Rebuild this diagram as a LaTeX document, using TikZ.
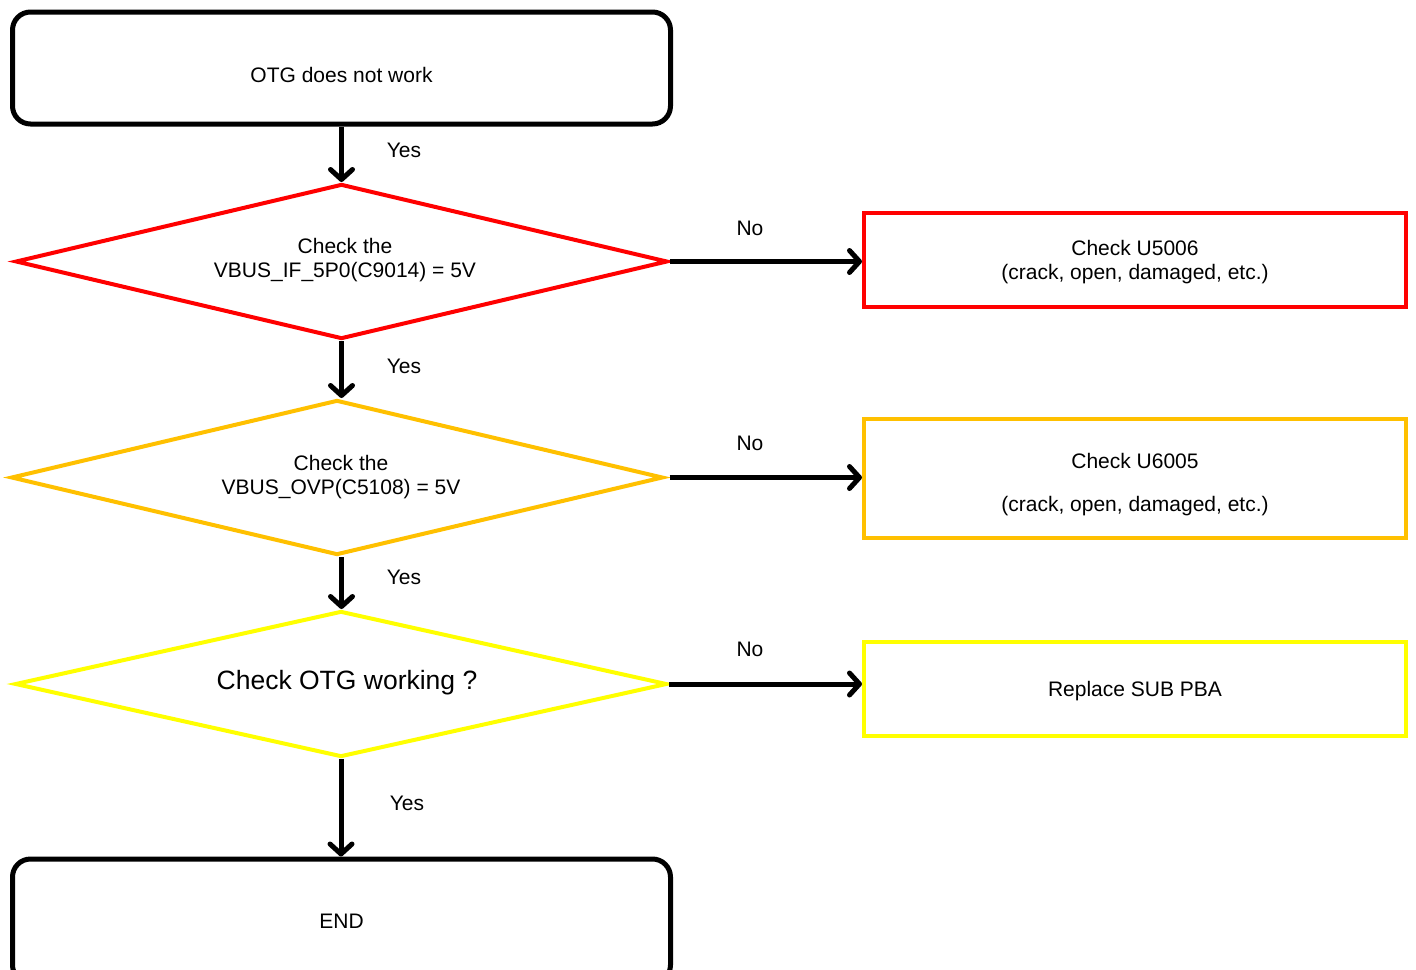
\documentclass[tikz,border=0pt]{standalone}
\usepackage{fontspec}
\setmainfont{Liberation Sans}
\usetikzlibrary{arrows.meta,shapes.geometric}
\definecolor{myorange}{HTML}{FFC000}
\definecolor{myyellow}{HTML}{FFFF00}
\begin{document}
\begin{tikzpicture}[x=1pt,y=-1pt,
 txt/.style={font=\fontsize{21}{24}\selectfont, align=center, inner sep=0pt},
 term/.style={draw=black, line width=5pt, rounded corners=18pt, minimum width=658pt, inner sep=0pt, txt},
 dec/.style={diamond, draw, line width=4pt, inner sep=0pt, minimum width=652pt, minimum height=155pt},
 res/.style={draw, line width=4pt, minimum width=542pt, inner sep=0pt, txt},
 arr/.style={line width=5pt, -{Straight Barb[length=10pt,width=22pt,round]}},
 lab/.style={txt}
]
\useasboundingbox (0,0) rectangle (1416,969);
% terminals
\node[term, minimum height=112pt] (start) at (341.5,68) {};
\node[txt] (starttxt) at (341.5,75) {OTG does not work};
\node[term, minimum height=124pt] (end) at (341.5,921) {END};
% decisions
\node[dec, draw=red] (d1) at (341.5,261.5) {};
\node[txt] (d1txt) at (345,260) {Check the\\VBUS\_IF\_5P0(C9014) = 5V};
\node[dec, draw=myorange] (d2) at (337,477.5) {};
\node[txt] (d2txt) at (341,477) {Check the\\VBUS\_OVP(C5108) = 5V};
\node[dec, draw=myyellow, minimum height=146pt] (d3) at (341,684) {};
\node[txt, font=\fontsize{26.5}{30}\selectfont] (d3txt) at (347,682.5) {Check OTG working ?};
% results
\node[res, draw=red, minimum height=94pt] (b1) at (1135,260) {};
\node[txt] (b1txt) at (1135,262) {Check U5006\\(crack, open, damaged, etc.)};
\node[res, draw=myorange, minimum height=119pt] (b2) at (1135,478.5) {};
\node[txt] (b2txt) at (1135,485) {Check U6005\\[19pt](crack, open, damaged, etc.)};
\node[res, draw=myyellow, minimum height=94pt] (b3) at (1135,689) {};
\node[txt] (b3txt) at (1135,691.5) {Replace SUB PBA};
% connectors
\draw[arr] (start.south) -- (d1.north);
\draw[arr] (d1.south) -- (d1.south |- d2.north);
\draw[arr] (d1.south |- d2.south) -- (d1.south |- d3.north);
\draw[arr] (d3.south) -- (d3.south |- end.north);
\draw[arr] (d1.east) -- (d1.east -| b1.west);
\draw[arr] (d1.east |- d2.east) -- (d2.east -| b2.west);
\draw[arr] (d3.east) -- (d3.east -| b3.west);
% labels
\node[lab] (y1) at (404,150) {Yes};
\node[lab] (y2) at (404,366) {Yes};
\node[lab] (y3) at (404,577) {Yes};
\node[lab] (y4) at (407,803) {Yes};
\node[lab] (n1) at (750,228) {No};
\node[lab] (n2) at (750,443) {No};
\node[lab] (n3) at (750,649) {No};
\end{tikzpicture}
\end{document}
